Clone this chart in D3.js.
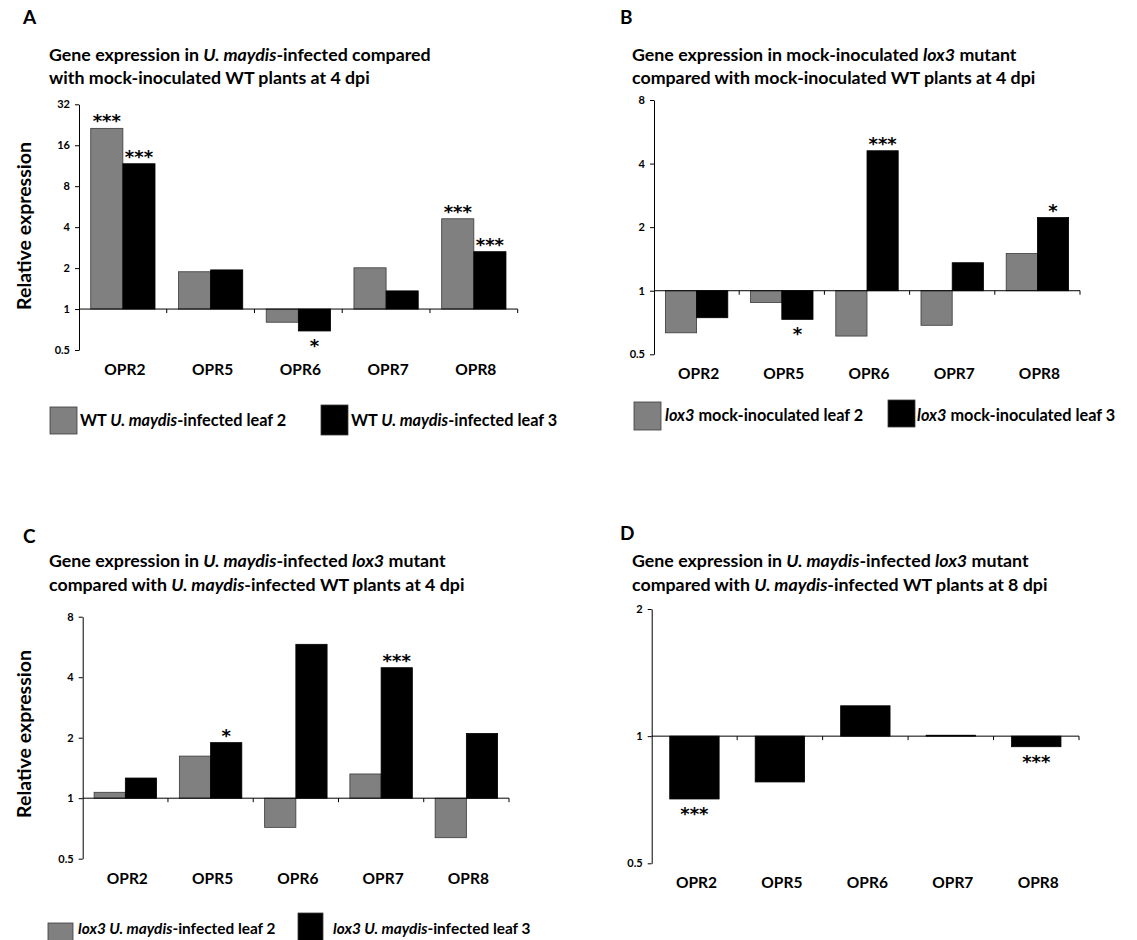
<!DOCTYPE html>
<html>
<head>
<meta charset="utf-8">
<script src="https://cdn.jsdelivr.net/npm/d3@7"></script>
<style>
  body { margin: 0; background: #fff; }
  svg { display: block; }
  text { font-family: Lato, "Open Sans", sans-serif; fill: #000; }
  text.sig { font-family: "DejaVu Sans", sans-serif; }
</style>
</head>
<body>
<svg id="fig" width="1137" height="940"></svg>
<script>
// ---- data -------------------------------------------------------------
const genes = ["OPR2", "OPR5", "OPR6", "OPR7", "OPR8"];

// A: U. maydis-infected vs mock-inoculated WT, 4 dpi
const aLeaf2 = [21.3, 1.88, 0.80, 2.01, 4.61];
const aLeaf3 = [11.7, 1.94, 0.69, 1.36, 2.64];
const aSig2  = ["***", "", "", "", "***"];
const aSig3  = ["***", "", "*", "", "***"];

// B: mock-inoculated lox3 vs mock-inoculated WT, 4 dpi
const bLeaf2 = [0.632, 0.88, 0.61, 0.686, 1.50];
const bLeaf3 = [0.745, 0.732, 4.60, 1.357, 2.22];
const bSig2  = ["", "", "", "", ""];
const bSig3  = ["", "*", "***", "", "*"];

// C: U. maydis-infected lox3 vs U. maydis-infected WT, 4 dpi
const cLeaf2 = [1.07, 1.62, 0.716, 1.32, 0.636];
const cLeaf3 = [1.26, 1.89, 5.83, 4.46, 2.10];
const cSig2  = ["", "", "", "", ""];
const cSig3  = ["", "*", "", "***", ""];

// D: U. maydis-infected lox3 vs U. maydis-infected WT, 8 dpi
const dLeaf3 = [0.71, 0.779, 1.18, 1.005, 0.944];
const dSig3  = ["***", "", "", "", "***"];

const ticksA = [0.5, 1, 2, 4, 8, 16, 32];
const ticksB = [0.5, 1, 2, 4, 8];
const ticksC = [0.5, 1, 2, 4, 8];
const ticksD = [0.5, 1, 2];

// titles as [text, italic] runs, one array per line
const titleA = [
  [["Gene expression in ", false], ["U. maydis", true], ["-infected compared", false]],
  [["with mock-inoculated WT plants at 4 dpi", false]]
];
const titleB = [
  [["Gene expression in mock-inoculated ", false], ["lox3", true], [" mutant", false]],
  [["compared with mock-inoculated WT plants at 4 dpi", false]]
];
const titleC = [
  [["Gene expression in ", false], ["U. maydis", true], ["-infected ", false], ["lox3", true], [" mutant", false]],
  [["compared with ", false], ["U. maydis", true], ["-infected WT plants at 4 dpi", false]]
];
const titleD = [
  [["Gene expression in ", false], ["U. maydis", true], ["-infected ", false], ["lox3", true], [" mutant", false]],
  [["compared with ", false], ["U. maydis", true], ["-infected WT plants at 8 dpi", false]]
];

const legendA = [
  [["WT ", false], ["U. maydis", true], ["-infected leaf 2", false]],
  [["WT ", false], ["U. maydis", true], ["-infected leaf 3", false]]
];
const legendB = [
  [["lox3", true], [" mock-inoculated leaf 2", false]],
  [["lox3", true], [" mock-inoculated leaf 3", false]]
];
const legendC = [
  [["lox3 U. maydis", true], ["-infected leaf 2", false]],
  [["lox3 U. maydis", true], ["-infected leaf 3", false]]
];

const GRAY = "#808080";
const BLACK = "#000000";

// ---- layout -------------------------------------------------------------
const panels = [
  {
    letter: "A", letterXY: [23, 24], title: titleA, titleX: 49, titleY: [61, 84],
    xr: [79, 517.7], yr: [350, 104.3], domain: [0.5, 32], ticks: ticksA,
    series: [
      { values: aLeaf2, sig: aSig2, fill: GRAY },
      { values: aLeaf3, sig: aSig3, fill: BLACK }
    ],
    yTitle: { x: 24, y: 226 },
    legend: { items: legendA, boxes: [[50, 407, 27, 27], [321, 405, 27, 30]], textX: [80, 351], textY: 426, size: 16.3 }
  },
  {
    letter: "B", letterXY: [620, 24], title: titleB, titleX: 632, titleY: [61, 84],
    xr: [654, 1080], yr: [354.3, 100], domain: [0.5, 8], ticks: ticksB,
    series: [
      { values: bLeaf2, sig: bSig2, fill: GRAY },
      { values: bLeaf3, sig: bSig3, fill: BLACK }
    ],
    yTitle: null,
    legend: { items: legendB, boxes: [[634, 402, 27, 28], [888, 400, 27, 27]], textX: [665, 917], textY: 421, size: 16.3 }
  },
  {
    letter: "C", letterXY: [23, 543], title: titleC, titleX: 49, titleY: [567, 591],
    xr: [82.7, 509], yr: [858.7, 616.7], domain: [0.5, 8], ticks: ticksC,
    series: [
      { values: cLeaf2, sig: cSig2, fill: GRAY },
      { values: cLeaf3, sig: cSig3, fill: BLACK }
    ],
    yTitle: { x: 24, y: 734 },
    legend: { items: legendC, boxes: [[48, 923, 25, 30], [298, 913, 25, 30]], textX: [78, 333], textY: 934, size: 15.4 }
  },
  {
    letter: "D", letterXY: [620, 540], title: titleD, titleX: 632, titleY: [567, 591],
    xr: [651.7, 1079], yr: [863.3, 609], domain: [0.5, 2], ticks: ticksD,
    series: [
      { values: dLeaf3, sig: dSig3, fill: BLACK }
    ],
    yTitle: null,
    legend: null
  }
];

const svg = d3.select("#fig");

function runs(sel, parts) {
  parts.forEach(([t, it]) => {
    sel.append("tspan").text(t).attr("font-style", it ? "italic" : "normal");
  });
}

panels.forEach(p => {
  const g = svg.append("g");

  // panel letter
  g.append("text").attr("x", p.letterXY[0]).attr("y", p.letterXY[1])
    .attr("font-size", 19).attr("font-weight", 700).text(p.letter);

  // two-line title
  p.title.forEach((line, i) => {
    const t = g.append("text").attr("x", p.titleX).attr("y", p.titleY[i])
      .attr("font-size", 17.8).attr("font-weight", 700);
    runs(t, line);
  });

  const x = d3.scaleBand().domain(genes).range(p.xr).padding(0);
  const keys = p.series.map((s, i) => i);
  const inner = d3.scaleBand().domain(keys).range([0, x.bandwidth()])
    .paddingInner(0).paddingOuter(0.365);
  const y = d3.scaleLog().base(2).domain(p.domain).range(p.yr);
  const y1 = y(1);

  // bars, drawn from the baseline at 1
  p.series.forEach((s, si) => {
    g.selectAll(null).data(genes).enter().append("rect")
      .attr("x", d => x(d) + inner(si))
      .attr("width", inner.bandwidth())
      .attr("y", (d, i) => Math.min(y(s.values[i]), y1))
      .attr("height", (d, i) => Math.abs(y(s.values[i]) - y1))
      .attr("fill", s.fill)
      .attr("stroke", s.fill === GRAY ? "#3a3a3a" : "#000")
      .attr("stroke-width", 0.8);

    // significance marks
    g.selectAll(null).data(genes).enter().append("text")
      .attr("class", "sig")
      .attr("x", d => x(d) + inner(si) + inner.bandwidth() / 2)
      .attr("y", (d, i) => s.values[i] >= 1 ? y(s.values[i]) - 1 : y(s.values[i]) + 21)
      .attr("text-anchor", "middle")
      .attr("font-size", 18).attr("font-weight", 700)
      .text((d, i) => s.sig[i]);
  });

  // y axis
  const yAxis = d3.axisLeft(y).tickValues(p.ticks).tickFormat(d3.format("")).tickSize(4).tickSizeOuter(0);
  const ya = g.append("g").attr("transform", `translate(${p.xr[0]},0)`).call(yAxis);
  ya.select(".domain").attr("stroke", "#000").attr("stroke-width", 1);
  ya.selectAll(".tick line").attr("stroke", "#000");
  ya.selectAll(".tick text").attr("font-size", 11).attr("font-weight", 700).attr("x", -9);

  // baseline at 1, with ticks between categories
  g.append("line").attr("x1", p.xr[0]).attr("x2", p.xr[1]).attr("y1", y1).attr("y2", y1)
    .attr("stroke", "#000").attr("stroke-width", 1);
  g.selectAll(null).data(genes).enter().append("line")
    .attr("x1", d => x(d) + x.bandwidth()).attr("x2", d => x(d) + x.bandwidth())
    .attr("y1", y1).attr("y2", y1 + 4).attr("stroke", "#000");

  // category labels under the plot
  g.selectAll(null).data(genes).enter().append("text")
    .attr("x", d => x(d) + x.bandwidth() / 2 + 2)
    .attr("y", p.yr[0] + 25)
    .attr("text-anchor", "middle")
    .attr("font-size", 15.5).attr("font-weight", 700)
    .text(d => d);

  if (p.yTitle) {
    g.append("text")
      .attr("transform", `translate(${p.yTitle.x},${p.yTitle.y}) rotate(-90)`)
      .attr("text-anchor", "middle").attr("dy", "0.35em")
      .attr("font-size", 19.5).attr("font-weight", 700)
      .text("Relative expression");
  }

  if (p.legend) {
    const L = p.legend;
    p.series.forEach((s, si) => {
      const b = L.boxes[si];
      g.append("rect").attr("x", b[0]).attr("y", b[1]).attr("width", b[2]).attr("height", b[3])
        .attr("fill", s.fill).attr("stroke", "#3a3a3a").attr("stroke-width", 0.8);
      const t = g.append("text").attr("x", L.textX[si]).attr("y", L.textY)
        .attr("font-size", L.size).attr("font-weight", 700);
      runs(t, L.items[si]);
    });
  }
});
</script>
</body>
</html>
